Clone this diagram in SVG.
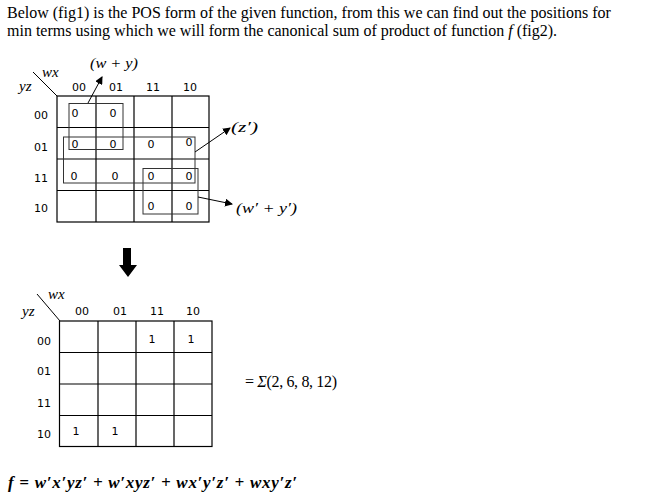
<svg xmlns="http://www.w3.org/2000/svg" width="665" height="503" viewBox="0 0 665 503">
<style>
.para{font-family:"Liberation Serif",serif;font-size:16px;fill:#000}
.lbl{font-family:"DejaVu Sans",sans-serif;font-size:11px;fill:#000;text-anchor:middle}
.it{font-family:"Liberation Serif",serif;font-style:italic;font-size:15px;fill:#000}
.grid{fill:none;stroke:#000;stroke-width:1.2}
.box{fill:none;stroke:#333;stroke-width:1}
.conn{stroke:#000;stroke-width:1;fill:none}
</style>
<defs>
<marker id="ah" markerWidth="8" markerHeight="8" refX="7" refY="4" orient="auto" markerUnits="userSpaceOnUse">
<path d="M0,0 L8,4 L0,8 Z" fill="#000"/>
</marker>
</defs>
<rect width="665" height="503" fill="#fff"/>
<text class="para" x="7" y="18">Below (fig1) is the POS form of the given function, from this we can find out the positions for</text>
<text class="para" x="7" y="36">min terms using which we will form the canonical sum of product of function <tspan font-style="italic">f</tspan> (fig2).</text>

<g id="kmap1">
<line class="conn" x1="33" y1="72" x2="57" y2="96"/>
<text class="it" x="42" y="77">wx</text>
<text class="it" x="19" y="91">yz</text>
<text class="lbl" x="79" y="91">00</text>
<text class="lbl" x="116" y="91">01</text>
<text class="lbl" x="153" y="91">11</text>
<text class="lbl" x="190" y="91">10</text>
<text class="lbl" x="41" y="119">00</text>
<text class="lbl" x="41" y="151">01</text>
<text class="lbl" x="41" y="182">11</text>
<text class="lbl" x="41" y="212">10</text>
<rect class="grid" x="57" y="96" width="152" height="126"/>
<line class="grid" x1="96" y1="96" x2="96" y2="222"/>
<line class="grid" x1="134" y1="96" x2="134" y2="222"/>
<line class="grid" x1="172" y1="96" x2="172" y2="222"/>
<line class="grid" x1="57" y1="127.5" x2="209" y2="127.5"/>
<line class="grid" x1="57" y1="159" x2="209" y2="159"/>
<line class="grid" x1="57" y1="190.5" x2="209" y2="190.5"/>
<text class="lbl" x="75" y="117">0</text>
<text class="lbl" x="113" y="117">0</text>
<text class="lbl" x="75" y="148">0</text>
<text class="lbl" x="113" y="148">0</text>
<text class="lbl" x="151" y="148">0</text>
<text class="lbl" x="189" y="146">0</text>
<text class="lbl" x="74" y="180">0</text>
<text class="lbl" x="115" y="180">0</text>
<text class="lbl" x="151" y="180">0</text>
<text class="lbl" x="189" y="180">0</text>
<text class="lbl" x="151" y="210">0</text>
<text class="lbl" x="189" y="210">0</text>
<rect class="box" x="69" y="103.5" width="54" height="46"/>
<rect class="box" x="63.5" y="137" width="131.5" height="46"/>
<rect class="box" x="143" y="168.5" width="55" height="45.5"/>
</g>

<g id="label-wy"><text class="it" x="90" y="68" textLength="48" lengthAdjust="spacingAndGlyphs">(w + y)</text></g>
<g id="label-z"><text class="it" x="231" y="132" textLength="27" lengthAdjust="spacingAndGlyphs">(z′)</text></g>
<g id="label-wy2"><text class="it" x="236" y="213" textLength="61" lengthAdjust="spacingAndGlyphs">(w′ + y′)</text></g>

<g id="connectors">
<line class="conn" x1="88" y1="103" x2="102" y2="77" marker-end="url(#ah)"/>
<line class="conn" x1="195" y1="152" x2="230" y2="128" marker-end="url(#ah)"/>
<line class="conn" x1="198" y1="197" x2="232" y2="204" marker-end="url(#ah)"/>
<path d="M123,248 H131 V265 H137 L128,277 L119,265 H123 Z" fill="#000"/>
</g>

<g id="kmap2">
<line class="conn" x1="37" y1="294" x2="60" y2="321"/>
<text class="it" x="48" y="299">wx</text>
<text class="it" x="22" y="316">yz</text>
<text class="lbl" x="82" y="315">00</text>
<text class="lbl" x="120" y="315">01</text>
<text class="lbl" x="157" y="315">11</text>
<text class="lbl" x="193" y="315">10</text>
<text class="lbl" x="44" y="345">00</text>
<text class="lbl" x="44" y="375">01</text>
<text class="lbl" x="44" y="407">11</text>
<text class="lbl" x="44" y="438">10</text>
<rect class="grid" x="59.5" y="321" width="152.5" height="125.5"/>
<line class="grid" x1="98" y1="321" x2="98" y2="446.5"/>
<line class="grid" x1="136" y1="321" x2="136" y2="446.5"/>
<line class="grid" x1="174" y1="321" x2="174" y2="446.5"/>
<line class="grid" x1="59.5" y1="352.5" x2="212" y2="352.5"/>
<line class="grid" x1="59.5" y1="384" x2="212" y2="384"/>
<line class="grid" x1="59.5" y1="415.5" x2="212" y2="415.5"/>
<text class="lbl" x="152" y="343">1</text>
<text class="lbl" x="191" y="343">1</text>
<text class="lbl" x="76" y="435">1</text>
<text class="lbl" x="115" y="435">1</text>
</g>

<g id="sum"><text x="245" y="387" style="font-family:'Liberation Serif',serif;font-size:16px" textLength="92" lengthAdjust="spacing">= <tspan font-style="italic">Σ</tspan>(2, 6, 8, 12)</text></g>
<g id="formula"><text x="8" y="488" style="font-family:'Liberation Serif',serif;font-size:17px;font-style:italic;font-weight:bold" textLength="289" lengthAdjust="spacing">f = w′x′yz′ + w′xyz′ + wx′y′z′ + wxy′z′</text></g>
</svg>
